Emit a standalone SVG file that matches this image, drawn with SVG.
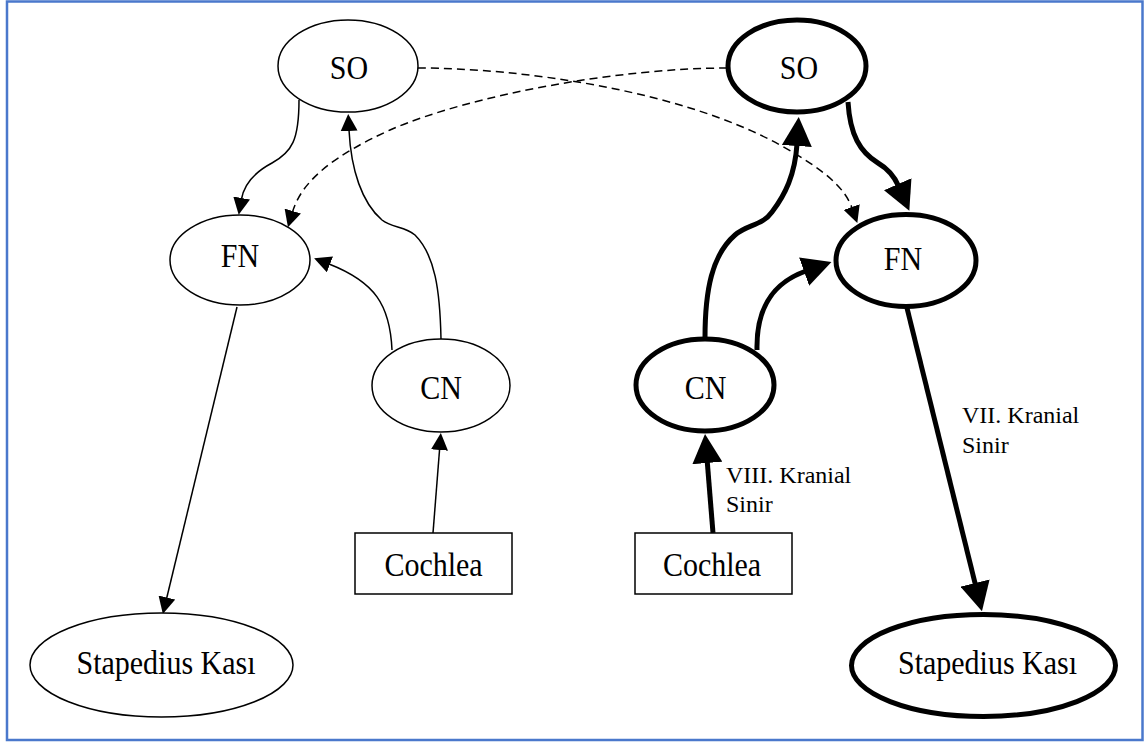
<svg xmlns="http://www.w3.org/2000/svg" width="1145" height="742" viewBox="0 0 1145 742">
<style>
  text { font-family: "Liberation Serif", "Times New Roman", serif; fill: #000; }
  .lbl { font-size: 30px; text-anchor: middle; }
  .elbl { font-size: 24px; }
  .thin { fill: #fff; stroke: #000; stroke-width: 1.5; }
  .thick { fill: #fff; stroke: #000; stroke-width: 5; }
  .c-thin { fill: none; stroke: #000; stroke-width: 1.5; marker-end: url(#arrowThin); }
  .c-dash { fill: none; stroke: #000; stroke-width: 1.5; stroke-dasharray: 8 5; marker-end: url(#arrowThin); }
  .c-thick { fill: none; stroke: #000; stroke-width: 5; marker-end: url(#arrowThick); }
</style>
<defs>
  <marker id="arrowThin" markerUnits="userSpaceOnUse" markerWidth="17" markerHeight="17" viewBox="0 0 17 17" refX="1" refY="8.5" orient="auto">
    <path d="M0,0 L17,8.5 L0,17 z" fill="#000"/>
  </marker>
  <marker id="arrowThick" markerUnits="userSpaceOnUse" markerWidth="29" markerHeight="30" viewBox="0 0 29 30" refX="2" refY="15" orient="auto">
    <path d="M0,0 L29,15 L0,30 z" fill="#000"/>
  </marker>
</defs>
<rect x="0" y="0" width="1145" height="742" fill="#fff"/>
<rect x="7" y="1.5" width="1135.5" height="738.5" fill="none" stroke="#4a78cc" stroke-width="2.5"/>

<g id="connectors">
  <!-- left (thin) -->
  <path class="c-thin" d="M299,100 C299,140 292,152 272,163 C255,172 244,185 241.5,199"/>
  <path class="c-thin" d="M441,339 C440,290 435,255 415,235 C405,226 392,228 382,220 C362,203 351,170 349,130"/>
  <path class="c-thin" d="M392,350 C390,305 375,282 329,264"/>
  <path class="c-thin" d="M237,307 L166.6,598.5"/>
  <path class="c-thin" d="M433,533 L439.6,449"/>
  <!-- dashed crossing -->
  <path class="c-dash" d="M418,68 C520,68 680,90 780,145 C825,170 845,188 852,208"/>
  <path class="c-dash" d="M727,68 C620,68 470,95 390,130 C335,155 302,180 292.5,212"/>
  <!-- right (thick) -->
  <path class="c-thick" d="M848,102 C850,135 860,152 878,163 C890,170 895,178 898.5,186"/>
  <path class="c-thick" d="M705,338 C705,290 712,255 735,235 C748,224 762,226 772,212 C785,195 795,175 797,144"/>
  <path class="c-thick" d="M757,350 C756,305 775,282 806,271"/>
  <path class="c-thick" d="M907,308 L975.5,585"/>
  <path class="c-thick" d="M713,533 L707.2,461"/>
</g>

<g id="edge-labels">
  <text class="elbl" x="726" y="483">VIII. Kranial</text>
  <text class="elbl" x="726" y="512">Sinir</text>
  <text class="elbl" x="962" y="423">VII. Kranial</text>
  <text class="elbl" x="962" y="453">Sinir</text>
</g>

<g id="left-SO"><ellipse class="thin" cx="348" cy="66" rx="70" ry="46"/><text class="lbl" transform="translate(349 79) scale(1 1.1)">SO</text></g>
<g id="left-FN"><ellipse class="thin" cx="240" cy="260" rx="70" ry="45"/><text class="lbl" transform="translate(240 267) scale(1 1.1)">FN</text></g>
<g id="left-CN"><ellipse class="thin" cx="441" cy="385.5" rx="69" ry="46.5"/><text class="lbl" transform="translate(441 399) scale(1 1.1)">CN</text></g>
<g id="left-Cochlea"><rect class="thin" x="355" y="533" width="157" height="61"/><text class="lbl" transform="translate(433.5 576) scale(1 1.1)">Cochlea</text></g>
<g id="left-Stapedius"><ellipse class="thin" cx="161.5" cy="665" rx="131.5" ry="52"/><text class="lbl" transform="translate(166 674) scale(1 1.1)">Stapedius Kası</text></g>

<g id="right-SO"><ellipse class="thick" cx="797" cy="66" rx="69" ry="46"/><text class="lbl" transform="translate(799 79) scale(1 1.1)">SO</text></g>
<g id="right-FN"><ellipse class="thick" cx="906" cy="260.5" rx="70" ry="46"/><text class="lbl" transform="translate(903 270) scale(1 1.1)">FN</text></g>
<g id="right-CN"><ellipse class="thick" cx="705" cy="385" rx="69" ry="46"/><text class="lbl" transform="translate(705.5 399) scale(1 1.1)">CN</text></g>
<g id="right-Cochlea"><rect class="thin" x="635" y="533" width="157" height="61"/><text class="lbl" transform="translate(712 576) scale(1 1.1)">Cochlea</text></g>
<g id="right-Stapedius"><ellipse class="thick" cx="983.5" cy="665.5" rx="132" ry="51"/><text class="lbl" transform="translate(987.5 674) scale(1 1.1)">Stapedius Kası</text></g>
</svg>
